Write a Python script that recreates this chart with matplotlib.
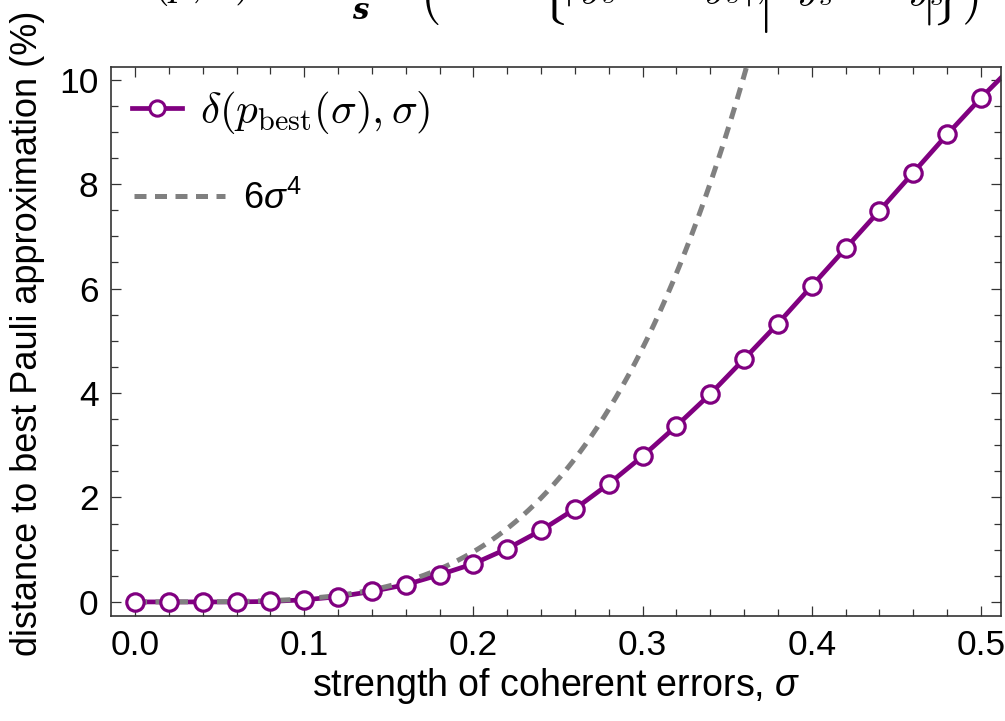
import numpy as np
import matplotlib.pyplot as plt
from matplotlib.lines import Line2D
from matplotlib.ticker import MultipleLocator

plt.rcParams['font.family'] = ['Liberation Sans', 'DejaVu Sans']
plt.rcParams['mathtext.fontset'] = 'custom'
plt.rcParams['mathtext.rm'] = 'Liberation Sans'
plt.rcParams['mathtext.it'] = 'Liberation Sans:italic'

# strength of coherent errors (sample points) and distance in %
sigma = [0.00, 0.02, 0.04, 0.06, 0.08, 0.10, 0.12, 0.14, 0.16, 0.18, 0.20, 0.22, 0.24,
         0.26, 0.28, 0.30, 0.32, 0.34, 0.36, 0.38, 0.40, 0.42, 0.44, 0.46, 0.48, 0.50]
delta = [0.00, 0.00, 0.00, 0.00, 0.01, 0.04, 0.10, 0.20, 0.33, 0.52, 0.73, 1.02, 1.37,
         1.78, 2.26, 2.79, 3.37, 3.98, 4.65, 5.33, 6.05, 6.77, 7.49, 8.22, 8.95, 9.65]
# the solid curve continues past the last marker to the frame
sigma_end = 0.52
delta_end = 10.3

# 6 sigma^4 reference (in %)
sig_ref = np.linspace(0, 0.37, 200)
ref = 600 * sig_ref ** 4

purple = '#800080'
gray = '#808080'

fig = plt.figure(figsize=(10.05, 7.21), dpi=100)
ax = fig.add_axes([0.1104, 0.1456, 0.8856, 0.7614])

ax.plot(sigma + [sigma_end], delta + [delta_end], color=purple, lw=3.4, zorder=2,
        solid_capstyle='butt')
ax.plot(sig_ref, ref, color=gray, lw=3.6, ls=(0, (2.4, 1.7)), zorder=3)
ax.plot(sigma, delta, ls='none', marker='o', ms=12.5, mfc='white', mec=purple,
        mew=2.3, zorder=4)

ax.set_xlim(-0.0142, 0.5118)
ax.set_ylim(-0.27, 10.24)
ax.xaxis.set_minor_locator(MultipleLocator(0.02))
ax.yaxis.set_major_locator(MultipleLocator(2))
ax.yaxis.set_minor_locator(MultipleLocator(0.5))
ax.set_xticks([0, 0.1, 0.2, 0.3, 0.4, 0.5])
ax.set_xticklabels(['0.0', '0.1', '0.2', '0.3', '0.4', '0.5'])
ax.tick_params(which='both', direction='in', top=True, right=True, labelsize=25.5,
               width=0.9, color='#333333', pad=9)
ax.tick_params(which='major', length=7)
ax.tick_params(which='minor', length=5)
for s in ax.spines.values():
    s.set_linewidth(1.2)
    s.set_color('#333333')

ax.set_xlabel(r'strength of coherent errors, $\sigma$', fontsize=27, labelpad=3)
ax.set_ylabel('distance to best Pauli approximation (%)', fontsize=26)
ax.yaxis.set_label_coords(-0.074, 0.515)

h1 = Line2D([], [], color=purple, lw=3.4, marker='o', ms=11, mfc='white', mec=purple, mew=2.2)
h2 = Line2D([], [], color=gray, lw=3.6, ls=(0, (2.4, 1.7)))
leg1 = ax.legend([h1], [r'$\delta(p_{\mathrm{best}}(\sigma),\sigma)$'], loc='upper left',
                 bbox_to_anchor=(0.0, 1.0), frameon=False, fontsize=31, handlelength=1.15,
                 handletextpad=0.42, borderaxespad=0.1)
leg1.get_texts()[0].set_math_fontfamily('cm')
ax.add_artist(leg1)
leg2 = ax.legend([h2], [r'$6\sigma^4$'], loc='upper left', bbox_to_anchor=(0.0, 0.836),
                 frameon=False, fontsize=26, handlelength=2.5, handletextpad=0.5,
                 borderaxespad=0.25)


# equation above the frame, only its lower edge shows (pixel positions)
def eq_piece(s, x, y, size, ha='left'):
    t = fig.text(x / 1005, 1 - y / 721, s, fontsize=size, ha=ha, va='bottom')
    t.set_math_fontfamily('cm')


eq_piece(r'$\delta(p,\sigma)\ =$', 133, 8, 31)
fig.text(360 / 1005, 1 - 25 / 721, 's', fontsize=21, family='DejaVu Serif',
         weight='bold', style='italic', ha='center', va='bottom')
eq_piece(r'$($', 430, 27, 38, ha='center')
eq_piece(r'$\{$', 551, 27, 38, ha='center')
eq_piece(r'$|\,y_{s}\ -\ \ y_{s}|,$', 562, 8, 31)
eq_piece(r'$|$', 763, 35, 42, ha='center')
eq_piece(r'$y_{s}\ -\ y_{s}$', 797, 8, 31)
eq_piece(r'$|$', 926, 27, 38, ha='center')
eq_piece(r'$\}$', 944, 27, 38, ha='center')
eq_piece(r'$)$', 970, 27, 38, ha='center')

fig.savefig('out.png', dpi=100)
